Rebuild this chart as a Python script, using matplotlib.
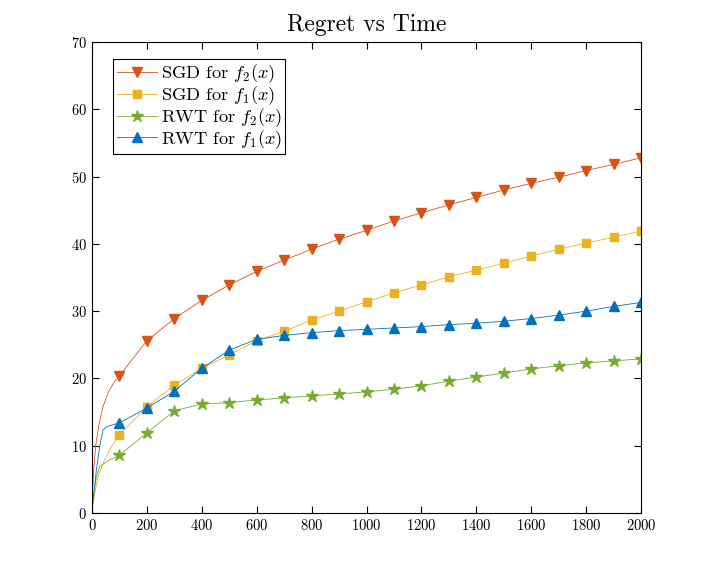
import matplotlib
matplotlib.use("Agg")
import matplotlib.pyplot as plt

plt.rcParams["font.family"] = "serif"
plt.rcParams["font.serif"] = ["cmr10", "DejaVu Serif"]
plt.rcParams["mathtext.fontset"] = "cm"
plt.rcParams["axes.formatter.use_mathtext"] = True

# marker positions (every 100 steps)
t_marks = [100, 200, 300, 400, 500, 600, 700, 800, 900, 1000,
           1100, 1200, 1300, 1400, 1500, 1600, 1700, 1800, 1900, 2000]

# values at the marker positions
sgd_f2 = [20.4, 25.6, 28.9, 31.6, 33.9, 35.9, 37.6, 39.2, 40.7, 42.0,
          43.4, 44.6, 45.8, 46.9, 48.0, 49.0, 49.9, 50.9, 51.8, 52.8]
sgd_f1 = [11.6, 15.8, 19.0, 21.5, 23.5, 25.6, 27.0, 28.7, 30.0, 31.4,
          32.7, 33.9, 35.1, 36.1, 37.1, 38.2, 39.2, 40.1, 41.0, 41.9]
rwt_f2 = [8.6, 11.9, 15.2, 16.2, 16.4, 16.8, 17.1, 17.4, 17.7, 18.0,
          18.4, 18.9, 19.6, 20.2, 20.8, 21.4, 21.9, 22.3, 22.6, 22.9]
rwt_f1 = [13.4, 15.6, 18.1, 21.5, 24.2, 25.8, 26.4, 26.8, 27.1, 27.3,
          27.5, 27.7, 28.0, 28.2, 28.5, 28.9, 29.4, 30.0, 30.7, 31.3]

# early part of each curve (before the first marker)
sgd_f2_t0 = [0, 3, 8, 15, 25, 40, 60, 80]
sgd_f2_y0 = [1.0, 4.0, 7.5, 10.5, 13.0, 15.8, 18.0, 19.4]
sgd_f1_t0 = [0, 10, 22, 40, 70]
sgd_f1_y0 = [0.5, 2.9, 5.4, 7.4, 9.8]
rwt_f2_t0 = [0, 5, 16, 28, 60]
rwt_f2_y0 = [0.5, 2.5, 5.4, 6.9, 7.8]
rwt_f1_t0 = [0, 8, 16, 28, 40, 52, 75]
rwt_f1_y0 = [0.3, 3.5, 6.4, 9.9, 12.3, 12.8, 13.1]

labels = [r"SGD for $f_2(x)$", r"SGD for $f_1(x)$",
          r"RWT for $f_2(x)$", r"RWT for $f_1(x)$"]
colors = ["#D95319", "#EDB120", "#77AC30", "#0072BD"]
markers = ["v", "s", "*", "^"]
msizes = [7.5, 5.5, 9, 7.5]

series = [
    (sgd_f2_t0, sgd_f2_y0, sgd_f2),
    (sgd_f1_t0, sgd_f1_y0, sgd_f1),
    (rwt_f2_t0, rwt_f2_y0, rwt_f2),
    (rwt_f1_t0, rwt_f1_y0, rwt_f1),
]

fig = plt.figure(figsize=(7.09, 5.78), dpi=100)
ax = fig.add_axes([92 / 709, 1 - 513 / 578, 549 / 709, 471 / 578])

for (t0, y0, ym), lab, c, m, ms in zip(series, labels, colors, markers, msizes):
    t = t0 + t_marks
    y = y0 + ym
    ax.plot(t, y, color=c, lw=0.6, marker=m, ms=ms,
            markevery=list(range(len(t0), len(t))), label=lab)

ax.set_xlim(0, 2000)
ax.set_ylim(0, 70)
ax.set_xticks(range(0, 2001, 200))
ax.set_yticks(range(0, 71, 10))
ax.tick_params(direction="in", top=True, right=True, length=5,
               width=0.8, labelsize=10.5)
for s in ax.spines.values():
    s.set_linewidth(0.8)

ax.set_title("Regret vs Time", fontsize=17, pad=8)

leg = ax.legend(loc="upper left", bbox_to_anchor=(0.038, 0.964),
                fontsize=13.2, fancybox=False, edgecolor="black",
                framealpha=1, handlelength=2.2, borderpad=0.2,
                labelspacing=-0.05, handletextpad=0.2, borderaxespad=0)
leg.get_frame().set_linewidth(0.8)

fig.savefig("out.png", dpi=100)
